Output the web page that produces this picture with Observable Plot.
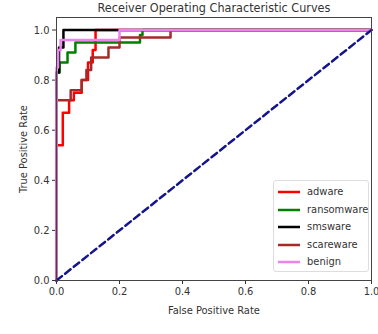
<!DOCTYPE html>
<html><head><meta charset="utf-8">
<script src="https://cdn.jsdelivr.net/npm/d3@7"></script>
<script src="https://cdn.jsdelivr.net/npm/@observablehq/plot@0.6"></script>
<style>
body{margin:0;background:#fff;}
#wrap{position:relative;width:378px;height:334px;overflow:hidden;font-family:"DejaVu Sans Condensed","DejaVu Sans",sans-serif;color:#333;}
#legend{position:absolute;left:273px;top:180px;width:96px;height:92px;border:1px solid #ddd;border-radius:3px;background:#fff;box-sizing:border-box;}
.item{position:absolute;left:4px;font-size:11px;height:14px;line-height:14px;}
.item svg{position:absolute;left:0;top:5px;}
.item span{position:absolute;left:29px;white-space:nowrap;}
</style></head>
<body><div id="wrap"></div>
<script>
const classes = ["adware","ransomware","smsware","scareware","benign"];
const colors = ["#ff0000","#008000","#000000","#a52a2a","#ee82ee"];
const adwareFpr = [0,0,0.02,0.02,0.04,0.04,0.055,0.055,0.08,0.08,0.1,0.1,0.115,0.115,0.124,0.124,1];
const adwareTpr = [0,0.54,0.54,0.67,0.67,0.72,0.72,0.75,0.75,0.8,0.8,0.87,0.87,0.92,0.92,1,1];
const ransomFpr = [0,0,0.01,0.01,0.035,0.035,0.06,0.06,0.265,0.265,0.273,0.273,1];
const ransomTpr = [0,0.83,0.83,0.87,0.87,0.91,0.91,0.95,0.95,0.98,0.98,1,1];
const smsFpr = [0,0,0.008,0.008,0.022,0.022,1];
const smsTpr = [0,0.83,0.83,0.93,0.93,1,1];
const scareFpr = [0,0,0.045,0.045,0.08,0.08,0.095,0.095,0.11,0.11,0.165,0.165,0.2,0.2,0.362,0.362,1];
const scareTpr = [0,0.72,0.72,0.76,0.76,0.8,0.8,0.84,0.84,0.89,0.89,0.93,0.93,0.97,0.97,1,1];
const benignFpr = [0,0,0.005,0.005,0.013,0.013,0.2,0.2,1];
const benignTpr = [0,0.85,0.85,0.92,0.92,0.96,0.96,1,1];
const chanceFpr = [0,1];
const chanceTpr = [0,1];
const ticks = [0,0.2,0.4,0.6,0.8,1.0];
const title = "Receiver Operating Characteristic Curves";

const series = [[adwareFpr,adwareTpr],[ransomFpr,ransomTpr],[smsFpr,smsTpr],[scareFpr,scareTpr],[benignFpr,benignTpr]];
const rows = [];
series.forEach(([f,t],i)=>f.forEach((v,j)=>rows.push({cls:classes[i],fpr:v,tpr:t[j]})));
const chance = chanceFpr.map((v,i)=>({fpr:v,tpr:chanceTpr[i]}));
const fmt = d3.format(".1f");

const chart = Plot.plot({
  width:378, height:334,
  marginLeft:56, marginRight:7, marginTop:17, marginBottom:54,
  style:{fontFamily:'"DejaVu Sans Condensed","DejaVu Sans",sans-serif', fontSize:"10px", color:"#333", background:"#fff"},
  x:{domain:[0,1]},
  y:{domain:[0,1.05]},
  color:{domain:classes, range:colors},
  marks:[
    Plot.axisX({ticks, tickFormat:fmt, tickSize:4, tickPadding:3, label:"False Positive Rate", labelAnchor:"center", labelArrow:"none", labelOffset:33, fontSize:11}),
    Plot.axisY({ticks, tickFormat:fmt, tickSize:4, tickPadding:3, label:"True Positive Rate", labelAnchor:"center", labelArrow:"none", labelOffset:37, fontSize:11}),
    Plot.line(rows, {x:"fpr", y:"tpr", z:"cls", stroke:"cls", strokeWidth:2.5, curve:"linear"}),
    Plot.line(chance, {x:"fpr", y:"tpr", stroke:"#14148c", strokeWidth:2.5, strokeDasharray:"7,4"}),
    Plot.frame({stroke:"#444", strokeWidth:1}),
    Plot.text([title], {frameAnchor:"top", dy:-6, lineAnchor:"bottom", fontSize:12.5, fill:"#333"})
  ]
});
const wrap = document.getElementById("wrap");
wrap.appendChild(chart);
const leg = document.createElement("div");
leg.id = "legend";
classes.forEach((c,i)=>{
  const it = document.createElement("div");
  it.className = "item";
  it.style.top = (4 + i*17.5) + "px";
  it.innerHTML = `<svg width="22" height="4"><line x1="0" x2="22" y1="2" y2="2" stroke="${colors[i]}" stroke-width="2.5"/></svg><span>${c}</span>`;
  leg.appendChild(it);
});
wrap.appendChild(leg);
</script></body></html>
